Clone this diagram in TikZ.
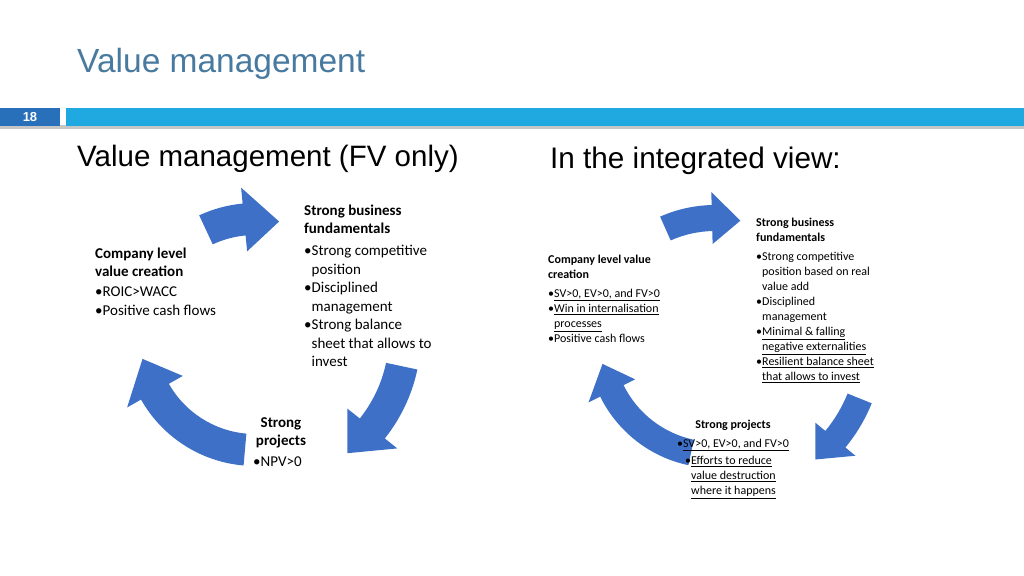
\documentclass[tikz,border=0pt]{standalone}
\usepackage{fontspec}
\setmainfont{Carlito}
\newfontfamily\arialfont{Liberation Sans}
\usetikzlibrary{calc}
\definecolor{titleblue}{RGB}{72,122,160}
\definecolor{numblue}{RGB}{40,112,186}
\definecolor{barblue}{RGB}{32,168,224}
\definecolor{cycleblue}{RGB}{62,112,200}
\newcommand{\ub}{\phantom{\textbullet}}
% #1 centre, #2 radius, #3 start angle, #4 end angle, #5 band width
\newcommand{\cyclearrow}[5]{%
  \pgfmathsetmacro\ro{#2+#5/2}\pgfmathsetmacro\ri{#2-#5/2}%
  \pgfmathsetmacro\ha{1.1*#5/#2*57.3}\pgfmathsetmacro\eh{#4+\ha}%
  \pgfmathsetmacro\ho{#2+1.0*#5}\pgfmathsetmacro\hi{#2-1.0*#5}%
  \fill[cycleblue] ($(#1)+(#3:\ro)$) arc[start angle=#3,end angle=\eh,radius=\ro]
    -- ($(#1)+(\eh:\ho)$) -- ($(#1)+(#4:#2)$) -- ($(#1)+(\eh:\hi)$)
    -- ($(#1)+(\eh:\ri)$) arc[start angle=\eh,end angle=#3,radius=\ri] -- cycle;}
\begin{document}
\begin{tikzpicture}[x=1pt,y=1pt,
  head/.style = {anchor=north west,inner sep=0pt,align=left,font=\fontsize{15}{18}\selectfont\bfseries},
  items/.style = {anchor=north west,inner sep=0pt,align=left,font=\fontsize{15}{18.5}\selectfont},
  headr/.style = {head,font=\fontsize{12}{15}\selectfont\bfseries},
  itemsr/.style = {items,font=\fontsize{12}{15}\selectfont}]
  \useasboundingbox (0,0) rectangle (1024,575);
  % title and bar
  \node[anchor=base west,inner sep=0pt,text=titleblue,font=\arialfont\fontsize{33.5}{33.5}\selectfont]
    (title) at (77,502) {Value management};
  \fill[gray!45] (0,446) rectangle (1024,450);
  \fill[numblue] (0,449) rectangle (60,467);
  \fill[barblue] (66,449) rectangle (1024,467);
  \node[text=white,font=\arialfont\bfseries\fontsize{13}{13}\selectfont] (num) at (30,458) {18};
  \node[anchor=base west,inner sep=0pt,font=\arialfont\fontsize{29.5}{29.5}\selectfont]
    (lefthead) at (77,408) {Value management (FV only)};
  \node[anchor=base west,inner sep=0pt,font=\arialfont\fontsize{29.7}{29.7}\selectfont]
    (righthead) at (550,406) {In the integrated view:};
  % left cycle
  \coordinate (lc) at (255,240);
  \cyclearrow{lc}{116}{115}{78}{32}
  \cyclearrow{lc}{150}{-12}{-52}{32}
  \cyclearrow{lc}{115}{-95}{-168}{32}
  \node[head] (lcomp) at (95,327) {Company level\\value creation};
  \node[items] (lcompb) at (95,288) {\textbullet ROIC>WACC\\\textbullet Positive cash flows};
  \node[head] (lfund) at (304,370) {Strong business\\fundamentals};
  \node[items] (lfundb) at (304,330) {\textbullet Strong competitive\\\ub position\\\textbullet Disciplined\\\ub management\\\textbullet Strong balance\\\ub sheet that allows to\\\ub invest};
  \node[head,anchor=north,align=center] (lproj) at (281,158) {Strong\\projects};
  \node[items] (lprojb) at (253,118) {\textbullet NPV>0};
  % right cycle
  \coordinate (rc) at (715,235);
  \cyclearrow{rc}{122}{114}{78}{26}
  \cyclearrow{rc}{156}{-22}{-50}{26}
  \cyclearrow{rc}{115}{-102}{-168}{26}
  \node[headr] (rcomp) at (548,320) {Company level value\\creation};
  \node[itemsr] (rcompb) at (548,286) {\textbullet\underline{SV>0, EV>0, and FV>0}\\\textbullet\underline{Win in internalisation}\\\ub\underline{processes}\\\textbullet Positive cash flows};
  \node[headr] (rfund) at (756,357) {Strong business\\fundamentals};
  \node[itemsr] (rfundb) at (756,323) {\textbullet Strong competitive\\\ub position based on real\\\ub value add\\\textbullet Disciplined\\\ub management\\\textbullet\underline{Minimal \& falling}\\\ub\underline{negative externalities}\\\textbullet\underline{Resilient balance sheet}\\\ub\underline{that allows to invest}};
  \node[headr,anchor=north] (rproj) at (733,155) {Strong projects};
  \node[itemsr,anchor=north] (rprojb) at (733,136) {\textbullet\underline{SV>0, EV>0, and FV>0}};
  \node[itemsr] (rprojc) at (685,119) {\textbullet\underline{Efforts to reduce}\\\ub\underline{value destruction}\\\ub\underline{where it happens}};
\end{tikzpicture}
\end{document}
